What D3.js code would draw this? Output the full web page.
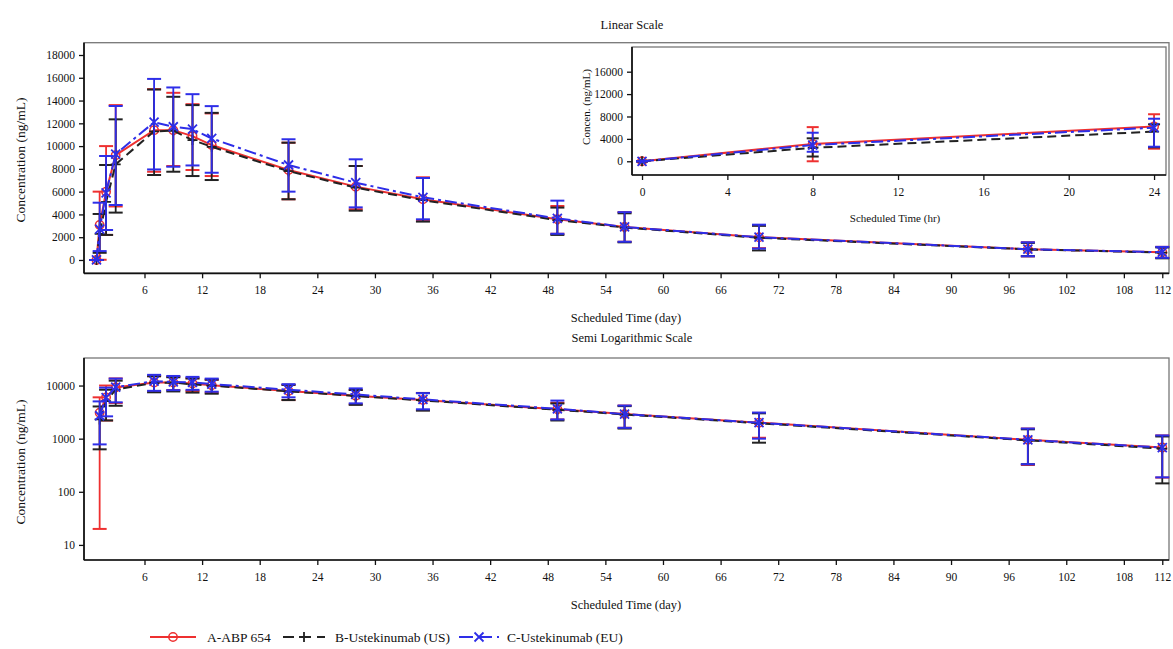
<!DOCTYPE html>
<html><head><meta charset="utf-8">
<script src="https://cdn.jsdelivr.net/npm/d3@7"></script>
<style>
body{margin:0;background:#fff;}
text{font-family:"Liberation Serif","Times New Roman",serif;fill:#111;}
</style></head><body>
<svg id="chart" width="1173" height="649"></svg>
<script>
// ---------- data ----------
const days = [1, 1.33, 2, 3, 7, 9, 11, 13, 21, 28, 35, 49, 56, 70, 98, 112];
const aMean = [0, 3070, 6000, 9200, 11400, 11400, 10880, 10090, 7900, 6440, 5330, 3570, 2900, 2000, 950, 680];
const aHi   = [0, 6000, 10000, 13600, 15000, 14680, 13680, 12870, 10300, 8250, 7260, 4740, 4200, 3050, 1550, 1150];
const aLo   = [0, 20, 2200, 4700, 7750, 8250, 7900, 7370, 5330, 4450, 3450, 2300, 1600, 1040, 320, 185];
const bMean = [0, 2300, 5100, 8400, 11300, 11350, 10530, 9940, 7800, 6350, 5250, 3500, 2850, 1950, 930, 650];
const bHi   = [0, 4040, 8340, 12350, 14970, 14330, 13600, 12920, 10300, 8250, 7200, 4600, 4100, 3000, 1500, 1100];
const bLo   = [0, 630, 2200, 4160, 7460, 7750, 7370, 7020, 5330, 4330, 3370, 2200, 1550, 840, 330, 144];
const cMean = [0, 2700, 5900, 9300, 12100, 11700, 11490, 10670, 8340, 6790, 5500, 3650, 2900, 2000, 950, 680];
const cHi   = [0, 5030, 9130, 13520, 15900, 15150, 14560, 13510, 10600, 8840, 7200, 5210, 4200, 3100, 1550, 1150];
const cLo   = [0, 780, 2630, 4830, 7950, 8190, 8300, 7660, 6000, 4620, 3570, 2300, 1600, 1000, 330, 187];

const hours = [0, 8, 24];
const aMeanHr = [0, 3100, 6200];
const aHiHr   = [0, 6100, 8400];
const aLoHr   = [0, 0, 2250];
const bMeanHr = [0, 2400, 5300];
const bHiHr   = [0, 4100, 6600];
const bLoHr   = [0, 850, 2500];
const cMeanHr = [0, 2900, 6000];
const cHiHr   = [0, 5100, 7600];
const cLoHr   = [0, 1700, 2600];

const dayTicks = [6, 12, 18, 24, 30, 36, 42, 48, 54, 60, 66, 72, 78, 84, 90, 96, 102, 108, 112];
const linTicks = [0, 2000, 4000, 6000, 8000, 10000, 12000, 14000, 16000, 18000];
const logTicks = [10, 100, 1000, 10000];
const hrTicks = [0, 4, 8, 12, 16, 20, 24];
const inLinTicks = [0, 4000, 8000, 12000, 16000];

const seriesNames = ["A-ABP 654", "B-Ustekinumab (US)", "C-Ustekinumab (EU)"];

// ---------- styles ----------
const styles = [
  {color: "#ee3030", dash: null, marker: "circle"},
  {color: "#222222", dash: "9,5", marker: "plus"},
  {color: "#2e2ee8", dash: "12,4,3,4", marker: "x"}
];

const svg = d3.select("#chart");

function mk(x, mean, hi, lo) {
  return x.map((t, i) => ({t, m: mean[i], hi: hi[i], lo: lo[i]}));
}
const mainSeries = [mk(days, aMean, aHi, aLo), mk(days, bMean, bHi, bLo), mk(days, cMean, cHi, cLo)];
const insetSeries = [mk(hours, aMeanHr, aHiHr, aLoHr), mk(hours, bMeanHr, bHiHr, bLoHr), mk(hours, cMeanHr, cHiHr, cLoHr)];

function drawMarker(g, type, x, y, color) {
  if (type === "circle") {
    g.append("circle").attr("cx", x).attr("cy", y).attr("r", 4.2)
      .attr("fill", "none").attr("stroke", color).attr("stroke-width", 1.5);
  } else if (type === "plus") {
    g.append("path").attr("d", `M${x-5},${y}H${x+5}M${x},${y-5}V${y+5}`)
      .attr("stroke", color).attr("stroke-width", 1.8);
  } else {
    g.append("path").attr("d", `M${x-4.5},${y-4.5}L${x+4.5},${y+4.5}M${x-4.5},${y+4.5}L${x+4.5},${y-4.5}`)
      .attr("stroke", color).attr("stroke-width", 1.8);
  }
}

function drawSeries(g, data, xs, ys, cap, filterPos) {
  data.forEach((ser, si) => {
    const st = styles[si];
    const pts = filterPos ? ser.filter(d => d.m > 0) : ser;
    const sg = g.append("g");
    pts.forEach(d => {
      const x = xs(d.t);
      const y1 = ys(d.hi), y2 = ys(d.lo);
      sg.append("line").attr("x1", x).attr("x2", x).attr("y1", y1).attr("y2", y2)
        .attr("stroke", st.color).attr("stroke-width", 1.8);
      [y1, y2].forEach(yy => sg.append("line").attr("x1", x - cap).attr("x2", x + cap)
        .attr("y1", yy).attr("y2", yy).attr("stroke", st.color).attr("stroke-width", 2));
    });
    const line = d3.line().x(d => xs(d.t)).y(d => ys(d.m));
    sg.append("path").datum(pts).attr("d", line).attr("fill", "none")
      .attr("stroke", st.color).attr("stroke-width", 2)
      .attr("stroke-dasharray", st.dash);
    pts.forEach(d => drawMarker(sg, st.marker, xs(d.t), ys(d.m), st.color));
  });
}

function frame(x0, y0, x1, y1) {
  svg.append("rect").attr("x", x0).attr("y", y0).attr("width", x1 - x0).attr("height", y1 - y0)
    .attr("fill", "none").attr("stroke", "#777").attr("stroke-width", 1.3);
  svg.append("line").attr("x1", x0).attr("x2", x0).attr("y1", y0).attr("y2", y1).attr("stroke", "#111").attr("stroke-width", 1.7);
  svg.append("line").attr("x1", x0).attr("x2", x1).attr("y1", y1).attr("y2", y1).attr("stroke", "#111").attr("stroke-width", 1.7);
}

function styleAxis(g, fs) {
  g.select(".domain").remove();
  g.selectAll(".tick line").attr("stroke", "#111").attr("stroke-width", 1.3);
  g.selectAll(".tick text").attr("font-size", fs).attr("font-family", "Liberation Serif").attr("fill", "#111");
}

// ---------- top panel (linear) ----------
const L = 84, R = 1169;
const xDay = d3.scaleLinear().domain([-0.3, 112.7]).range([L, R]);
const yLin = d3.scaleLinear().domain([-1170, 19080]).range([273.3, 42.7]);

frame(L, 42.7, R, 273.3);
const gTop = svg.append("g");
drawSeries(gTop, mainSeries, xDay, yLin, 7, false);

svg.append("g").attr("transform", "translate(0,273.3)")
  .call(d3.axisBottom(xDay).tickValues(dayTicks).tickSize(5).tickPadding(8).tickFormat(d3.format("d")))
  .call(g => styleAxis(g, 11.5));
svg.append("g").attr("transform", `translate(${L},0)`)
  .call(d3.axisLeft(yLin).tickValues(linTicks).tickSize(5).tickPadding(4).tickFormat(d3.format("d")))
  .call(g => styleAxis(g, 11.5));

svg.append("text").attr("x", 632).attr("y", 29).attr("text-anchor", "middle").attr("font-size", 12.5).text("Linear Scale");
svg.append("text").attr("x", 626).attr("y", 322).attr("text-anchor", "middle").attr("font-size", 12.5).text("Scheduled Time (day)");
svg.append("text").attr("transform", "translate(25,160) rotate(-90)").attr("text-anchor", "middle").attr("font-size", 13.5).text("Concentration (ng/mL)");

// ---------- inset ----------
const iL = 632, iR = 1166, iT = 47, iB = 175;
const xHr = d3.scaleLinear().domain([-0.47, 24.56]).range([iL, iR]);
const yIn = d3.scaleLinear().domain([-2450, 20410]).range([iB, iT]);
svg.append("rect").attr("x", iL).attr("y", iT).attr("width", iR - iL).attr("height", iB - iT).attr("fill", "#fff");
frame(iL, iT, iR, iB);
const gIn = svg.append("g");
drawSeries(gIn, insetSeries, xHr, yIn, 6, false);
svg.append("g").attr("transform", `translate(0,${iB})`)
  .call(d3.axisBottom(xHr).tickValues(hrTicks).tickSize(5).tickPadding(8).tickFormat(d3.format("d")))
  .call(g => styleAxis(g, 11.5));
svg.append("g").attr("transform", `translate(${iL},0)`)
  .call(d3.axisLeft(yIn).tickValues(inLinTicks).tickSize(5).tickPadding(4).tickFormat(d3.format("d")))
  .call(g => styleAxis(g, 11.5));
svg.append("text").attr("x", (iL + iR) / 2 - 4).attr("y", 222).attr("text-anchor", "middle").attr("font-size", 11).text("Scheduled Time (hr)");
svg.append("text").attr("transform", `translate(590,${(iT + iB) / 2 - 4}) rotate(-90)`).attr("text-anchor", "middle").attr("font-size", 11).text("Concen. (ng/mL)");

// ---------- bottom panel (log) ----------
const bT = 358, bB = 560;
const yLog = d3.scaleLog().domain([5.2, 33000]).range([bB, bT]);
frame(L, bT, R, bB);
const gBot = svg.append("g");
drawSeries(gBot, mainSeries, xDay, yLog, 7, true);
svg.append("g").attr("transform", `translate(0,${bB})`)
  .call(d3.axisBottom(xDay).tickValues(dayTicks).tickSize(5).tickPadding(8).tickFormat(d3.format("d")))
  .call(g => styleAxis(g, 11.5));
svg.append("g").attr("transform", `translate(${L},0)`)
  .call(d3.axisLeft(yLog).tickValues(logTicks).tickSize(5).tickPadding(4).tickFormat(d3.format("d")))
  .call(g => styleAxis(g, 11.5));
svg.append("text").attr("x", 632).attr("y", 342).attr("text-anchor", "middle").attr("font-size", 12.5).text("Semi Logarithmic Scale");
svg.append("text").attr("x", 626).attr("y", 609).attr("text-anchor", "middle").attr("font-size", 12.5).text("Scheduled Time (day)");
svg.append("text").attr("transform", "translate(25,462) rotate(-90)").attr("text-anchor", "middle").attr("font-size", 13.5).text("Concentration (ng/mL)");

// ---------- legend ----------
const legY = 637;
const legItems = [
  {x0: 150, x1: 196, tx: 207},
  {x0: 283, x1: 325, tx: 335},
  {x0: 459, x1: 499, tx: 507}
];
legItems.forEach((it, i) => {
  const st = styles[i];
  const lg = svg.append("g");
  lg.append("line").attr("x1", it.x0).attr("x2", it.x1).attr("y1", legY).attr("y2", legY)
    .attr("stroke", st.color).attr("stroke-width", 1.8).attr("stroke-dasharray", i === 0 ? null : (i === 1 ? "11,6" : "14,5"));
  drawMarker(lg, st.marker, (it.x0 + it.x1) / 2, legY, st.color);
  lg.append("text").attr("x", it.tx).attr("y", legY + 5).attr("font-size", 13.5).text(seriesNames[i]);
});
</script>
</body></html>
